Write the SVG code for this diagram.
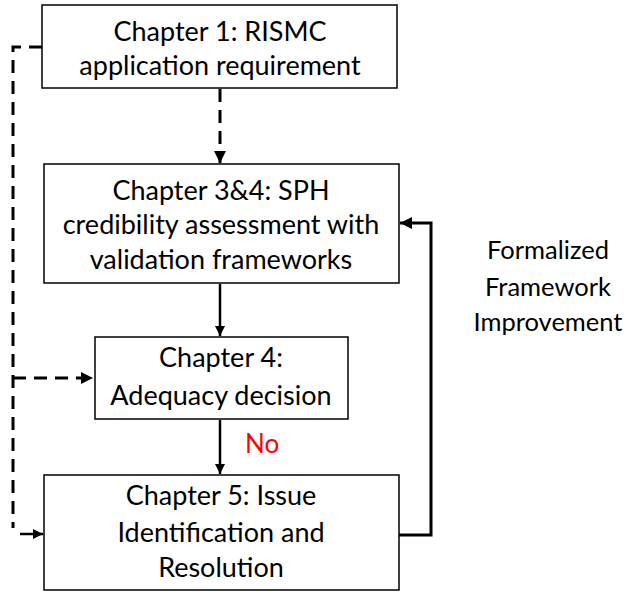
<svg xmlns="http://www.w3.org/2000/svg" width="629" height="602" viewBox="0 0 629 602">
  <style>
    .box { fill: #ffffff; stroke: #000000; stroke-width: 1.5; }
    .lbl { font-family: Lato, "Liberation Sans", sans-serif; font-size: 27px; fill: #000000; text-anchor: middle; }
    .side { font-family: Lato, "Liberation Sans", sans-serif; font-size: 25.5px; fill: #000000; text-anchor: middle; }
    .no { font-family: Lato, "Liberation Sans", sans-serif; font-size: 26px; fill: #ff0000; }
    .solid { fill: none; stroke: #000000; stroke-width: 2.5; }
    .thick { fill: none; stroke: #000000; stroke-width: 3; }
    .dash { fill: none; stroke: #000000; stroke-width: 3; stroke-dasharray: 13 8; }
  </style>
  <defs>
    <marker id="arrow" viewBox="0 0 10 10" refX="10" refY="5" markerWidth="4" markerHeight="4" orient="auto" markerUnits="strokeWidth">
      <path d="M0,0 L10,5 L0,10 z" fill="#000000"/>
    </marker>
  </defs>

  <g id="connectors">
    <!-- requirement feeds the assessment -->
    <path class="dash" d="M220,89 V163" marker-end="url(#arrow)"/>
    <!-- requirement also feeds the decision and the resolution step -->
    <path class="dash" d="M42,47 H13 V528"/>
    <path class="dash" d="M13,378 H93" marker-end="url(#arrow)"/>
    <path class="solid" d="M20,534 H43" marker-end="url(#arrow)"/>
    <!-- main flow -->
    <path class="solid" d="M220,284 V336" marker-end="url(#arrow)"/>
    <path class="solid" d="M220,420 V474" marker-end="url(#arrow)"/>
    <!-- feedback loop -->
    <path class="thick" d="M399,535 H431 V223 H400" marker-end="url(#arrow)"/>
  </g>

  <g id="ch1">
    <rect class="box" x="42" y="5" width="355" height="83"/>
    <text class="lbl" x="220" y="41">Chapter 1: RISMC</text>
    <text class="lbl" x="220" y="75">application requirement</text>
  </g>

  <g id="ch34">
    <rect class="box" x="44" y="164" width="355" height="119"/>
    <text class="lbl" x="221" y="200">Chapter 3&amp;4: SPH</text>
    <text class="lbl" x="221" y="234">credibility assessment with</text>
    <text class="lbl" x="221" y="269">validation frameworks</text>
  </g>

  <g id="ch4">
    <rect class="box" x="95" y="337" width="253" height="82"/>
    <text class="lbl" x="221" y="367">Chapter 4:</text>
    <text class="lbl" x="221" y="405">Adequacy decision</text>
  </g>

  <g id="ch5">
    <rect class="box" x="44" y="475" width="355" height="115"/>
    <text class="lbl" x="221" y="505">Chapter 5: Issue</text>
    <text class="lbl" x="221" y="542">Identification and</text>
    <text class="lbl" x="221" y="577">Resolution</text>
  </g>

  <g id="feedback-label">
    <text class="side" x="548" y="259">Formalized</text>
    <text class="side" x="548" y="296">Framework</text>
    <text class="side" x="548" y="331">Improvement</text>
  </g>

  <g id="no-label">
    <text class="no" x="245" y="453">No</text>
  </g>
</svg>
